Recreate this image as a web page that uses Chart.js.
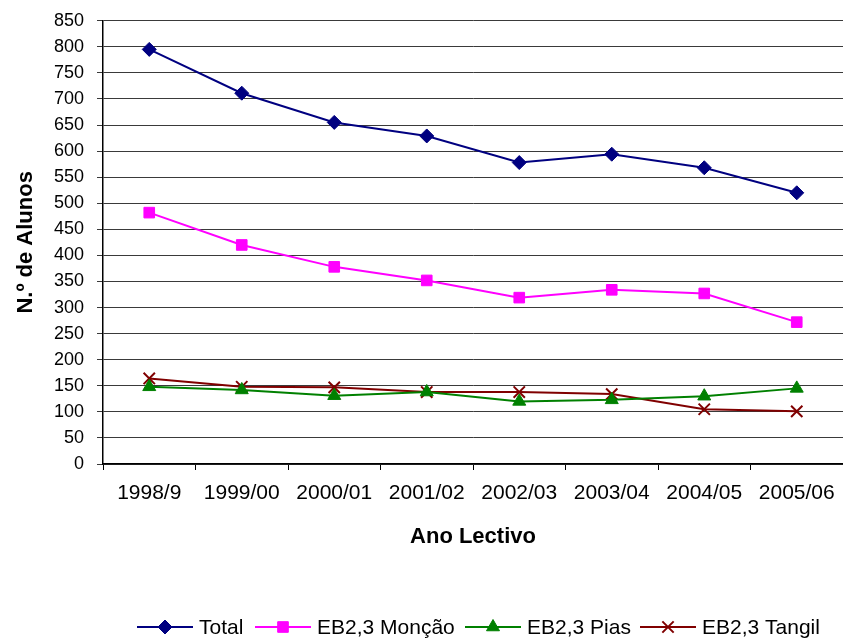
<!DOCTYPE html>
<html>
<head>
<meta charset="utf-8">
<script src="https://cdn.jsdelivr.net/npm/chart.js@4"></script>
<style>
html,body{margin:0;padding:0;background:#fff;}
#c{display:block;}
</style>
</head>
<body>
<canvas id="c" width="843" height="639"></canvas>
<script>
const categories = ['1998/9','1999/00','2000/01','2001/02','2002/03','2003/04','2004/05','2005/06'];
const totalValues  = [795, 711, 655, 629, 578, 594, 568, 520];
const moncaoValues = [482, 420, 378, 352, 319, 334, 327, 272];
const piasValues   = [148, 142, 131, 138, 120, 123, 130, 145];
const tangilValues = [164, 148, 147, 138, 138, 134, 105, 101];
const seriesNames  = ['Total', 'EB2,3 Monção', 'EB2,3 Pias', 'EB2,3 Tangil'];
const yTitle = 'N.º de Alunos';
const xTitle = 'Ano Lectivo';

const FONT = "'Liberation Sans', Arial, sans-serif";
const styles = [
  {color:'#000080', pointStyle:'rectRot', radius:7, bw:1},
  {color:'#FF00FF', pointStyle:'rect', radius:7.5, bw:1},
  {color:'#008000', pointStyle:'triangle', radius:7.5, bw:1},
  {color:'#800000', pointStyle:'crossRot', radius:8, bw:2}
];
const values = [totalValues, moncaoValues, piasValues, tangilValues];

const datasets = values.map((v, i) => ({
  label: seriesNames[i],
  data: v,
  borderColor: styles[i].color,
  backgroundColor: styles[i].color,
  pointBackgroundColor: styles[i].color,
  pointBorderColor: styles[i].color,
  pointStyle: styles[i].pointStyle,
  pointRadius: styles[i].radius,
  pointBorderWidth: styles[i].bw,
  borderWidth: 2,
  tension: 0,
  fill: false,
  clip: false
}));

const legendPlugin = {
  id: 'customLegend',
  afterDraw(chart) {
    const ctx = chart.ctx;
    const starts = [137, 255, 465, 640];
    const y = 627;
    ctx.save();
    ctx.font = "21px " + FONT;
    ctx.textBaseline = 'middle';
    ctx.textAlign = 'left';
    seriesNames.forEach((name, i) => {
      const s = styles[i];
      const x0 = starts[i];
      ctx.strokeStyle = s.color;
      ctx.lineWidth = 2;
      ctx.beginPath();
      ctx.moveTo(x0, y);
      ctx.lineTo(x0 + 56, y);
      ctx.stroke();
      ctx.fillStyle = s.color;
      ctx.strokeStyle = s.color;
      ctx.lineWidth = s.bw;
      Chart.helpers.drawPoint(ctx, {pointStyle: s.pointStyle, radius: s.radius, rotation: 0, borderWidth: s.bw}, x0 + 28, y);
      ctx.fillStyle = '#000';
      ctx.fillText(name, x0 + 62, y + 1);
    });
    ctx.restore();
  }
};

const bgPlugin = {
  id: 'bg',
  beforeDraw(chart) {
    const ctx = chart.ctx;
    ctx.save();
    ctx.fillStyle = '#fff';
    ctx.fillRect(0, 0, chart.width, chart.height);
    ctx.restore();
  }
};

new Chart(document.getElementById('c'), {
  type: 'line',
  data: { labels: categories, datasets: datasets },
  plugins: [bgPlugin, legendPlugin],
  options: {
    responsive: false,
    animation: false,
    devicePixelRatio: 1,
    layout: { autoPadding: false, padding: { left: 0, right: -1, top: 20.7, bottom: 89 } },
    plugins: {
      legend: { display: false },
      tooltip: { enabled: false }
    },
    scales: {
      x: {
        type: 'category',
        offset: true,
        grid: {
          offset: true,
          drawOnChartArea: false,
          drawTicks: true,
          tickLength: 6,
          color: '#000',
          lineWidth: 1
        },
        border: { display: true, color: '#000', width: 1.5 },
        ticks: {
          color: '#000',
          font: { family: FONT, size: 21 },
          padding: 11,
          maxRotation: 0,
          autoSkip: false
        },
        title: {
          display: true,
          text: xTitle,
          color: '#000',
          font: { family: FONT, size: 22, weight: 'bold' },
          padding: { top: 0, bottom: 0 }
        },
        afterFit(scale) {
          scale.height = 86;
          scale.paddingLeft = 0;
          scale.paddingRight = 0;
        }
      },
      y: {
        min: 0,
        max: 850,
        ticks: {
          stepSize: 50,
          color: '#000',
          font: { family: FONT, size: 18 },
          padding: 13
        },
        grid: {
          color: '#3a3a3a',
          lineWidth: 1,
          drawTicks: true,
          tickLength: 6
        },
        border: { display: true, color: '#000', width: 1.5 },
        title: {
          display: true,
          text: yTitle,
          color: '#000',
          font: { family: FONT, size: 22, weight: 'bold' },
          padding: { top: 12.5, bottom: 0 }
        },
        afterFit(scale) {
          scale.width = 103;
          scale.paddingTop = 0;
          scale.paddingBottom = 0;
        }
      }
    }
  }
});
</script>
</body>
</html>
